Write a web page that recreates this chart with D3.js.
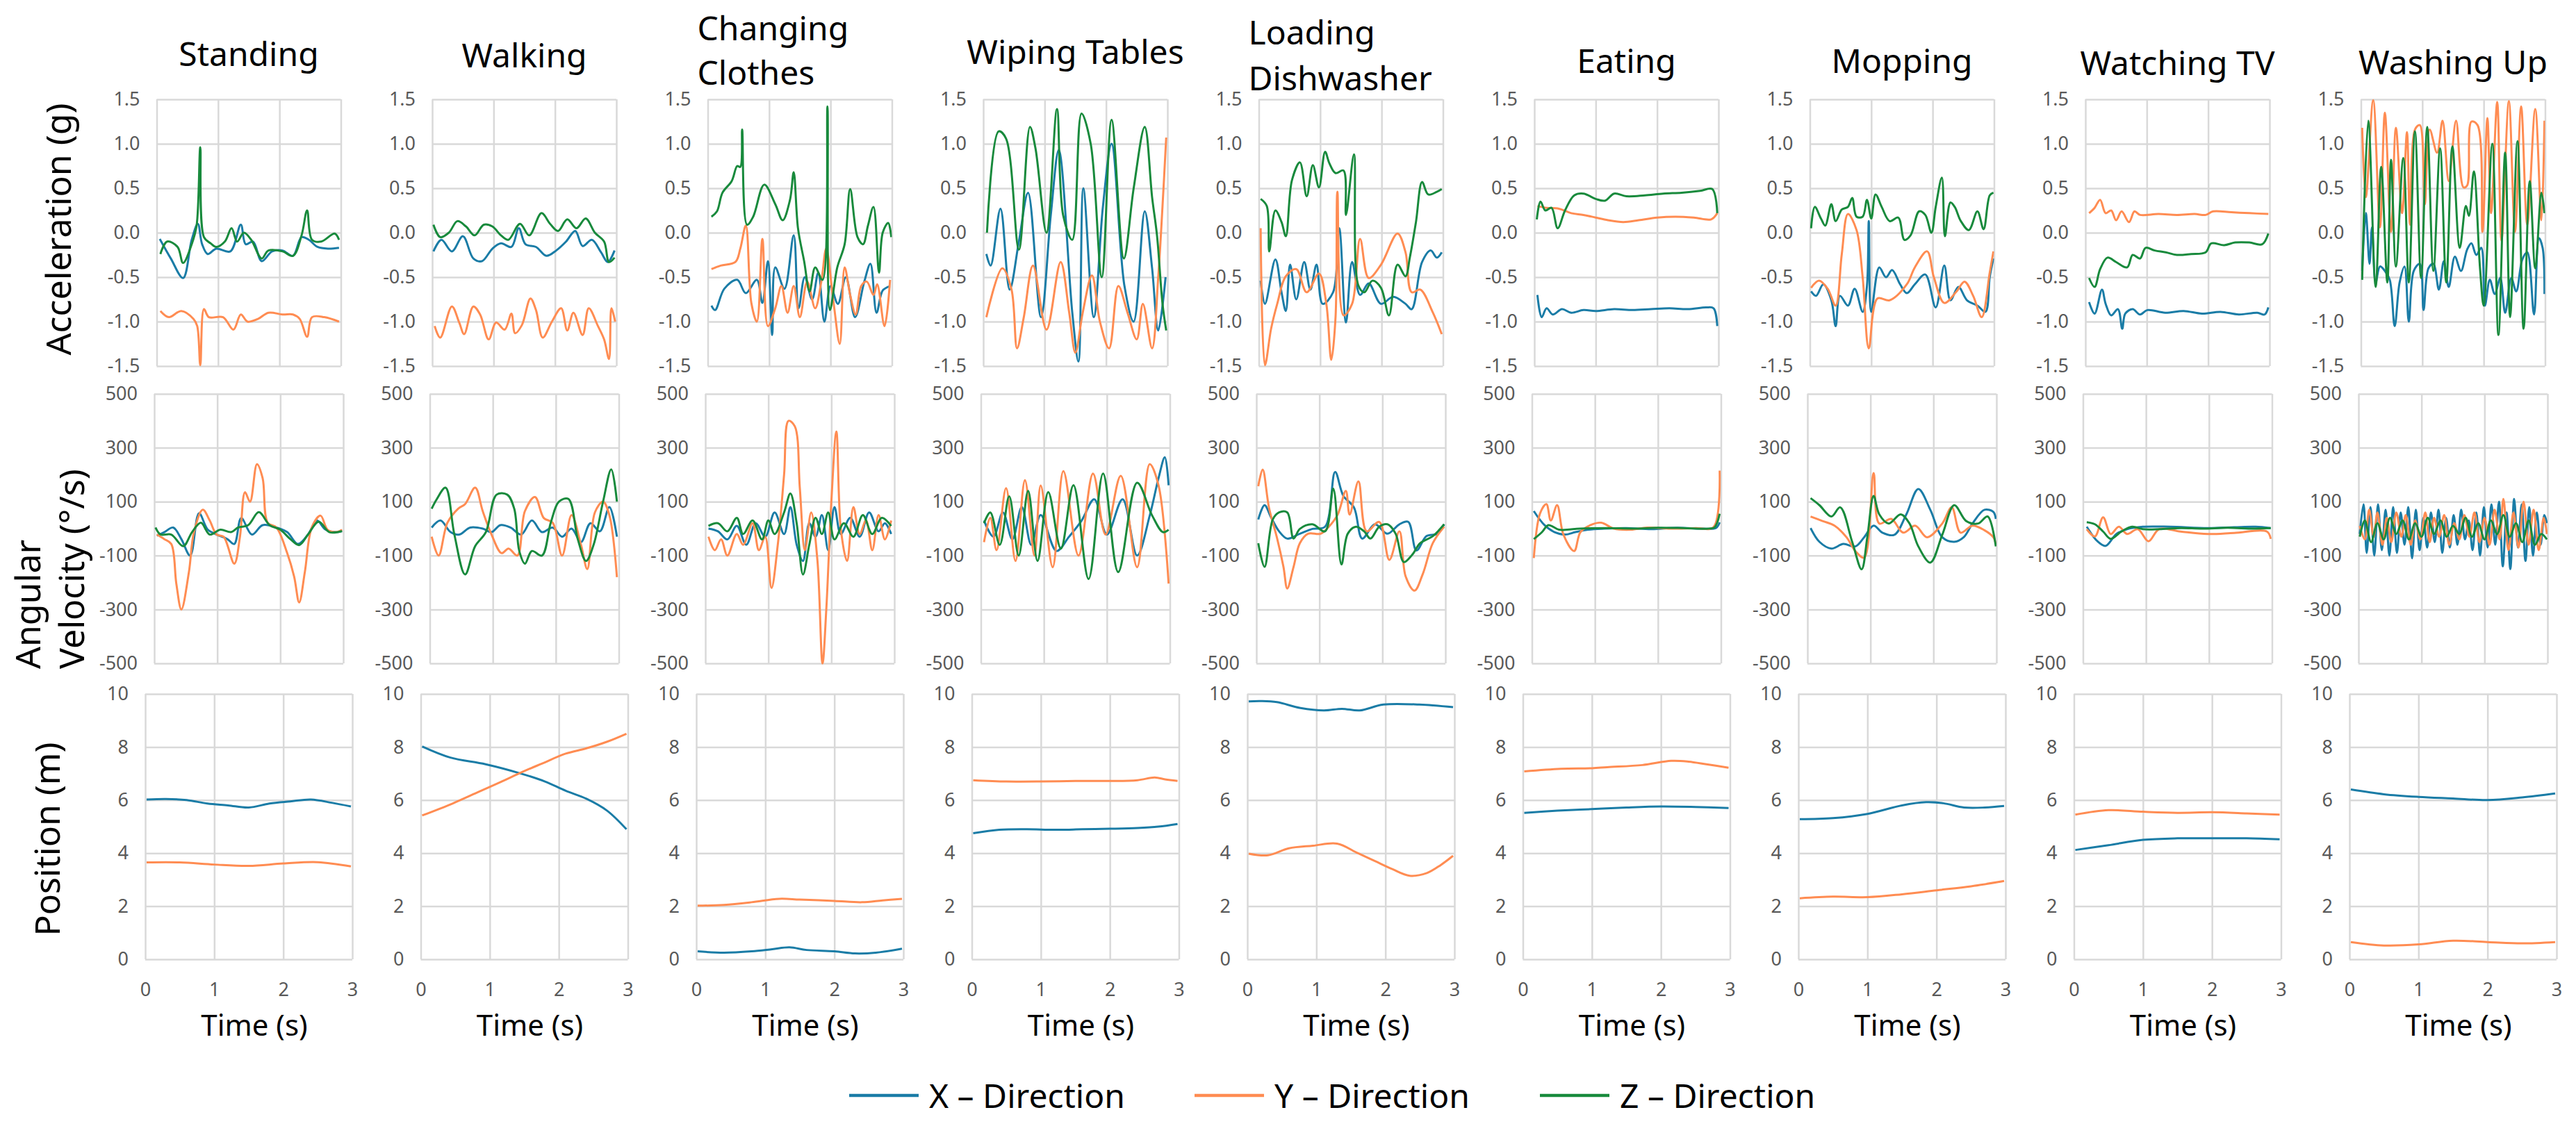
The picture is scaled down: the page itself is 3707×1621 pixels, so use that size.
<!DOCTYPE html>
<html>
<head>
<meta charset="utf-8">
<script src="https://cdn.jsdelivr.net/npm/d3@7/dist/d3.min.js"></script>
<style>
	body { margin: 0; background: #fff; }
	svg text { font-family: "Noto Sans", sans-serif; }
</style>
</head>
<body>
<svg id="chart" width="3707" height="1621"></svg>
<script>

	var activities = ["Standing", "Walking", "Changing Clothes", "Wiping Tables", "Loading Dishwasher", "Eating", "Mopping", "Watching TV", "Washing Up"];
	var titleLines = [["Standing"], ["Walking"], ["Changing", "Clothes"], ["Wiping Tables"], ["Loading", "Dishwasher"], ["Eating"], ["Mopping"], ["Watching TV"], ["Washing Up"]];
	var rowLabels = [["Acceleration (g)"], ["Angular", "Velocity (°/s)"], ["Position (m)"]];
	var seriesNames = ["X – Direction", "Y – Direction", "Z – Direction"];
	var timeTicks = [0, 1, 2, 3];
	var accTicks = [-1.5, -1, -0.5, 0, 0.5, 1, 1.5];
	var gyrTicks = [-500, -300, -100, 100, 300, 500];
	var posTicks = [0, 2, 4, 6, 8, 10];

	// ---- acceleration (g), [time s, value] ----
	var stAccX = [[0.05,-0.07],[0.23,-0.29],[0.43,-0.51],[0.57,-0.08],[0.67,0.1],[0.74,-0.13],[0.83,-0.24],[0.97,-0.18],[1.2,-0.21],[1.37,0.09],[1.45,-0.13],[1.57,-0.1],[1.71,-0.32],[1.88,-0.21],[2.05,-0.2],[2.22,-0.26],[2.36,-0.05],[2.48,-0.08],[2.62,-0.16],[2.79,-0.18],[2.97,-0.17]];
	var stAccY = [[0.06,-0.88],[0.2,-0.95],[0.4,-0.88],[0.6,-0.97],[0.66,-1.05],[0.71,-1.49],[0.77,-0.86],[0.85,-0.95],[1.08,-0.95],[1.25,-1.09],[1.37,-0.92],[1.48,-1.0],[1.65,-0.97],[1.82,-0.9],[2.05,-0.92],[2.22,-0.92],[2.33,-0.97],[2.45,-1.17],[2.53,-0.95],[2.73,-0.95],[2.97,-1.0]];
	var stAccZ = [[0.06,-0.24],[0.17,-0.1],[0.34,-0.16],[0.43,-0.34],[0.57,-0.13],[0.65,0.08],[0.71,0.96],[0.77,-0.05],[0.88,-0.12],[0.97,-0.16],[1.11,-0.1],[1.22,0.05],[1.31,-0.1],[1.42,0],[1.54,-0.08],[1.71,-0.29],[1.82,-0.2],[2.05,-0.21],[2.22,-0.26],[2.36,-0.03],[2.45,0.25],[2.53,-0.08],[2.68,-0.1],[2.9,-0.01],[2.97,-0.08]];

	var wkAccX = [[0.02,-0.21],[0.15,-0.08],[0.32,-0.21],[0.5,-0.04],[0.67,-0.29],[0.81,-0.32],[0.98,-0.18],[1.12,-0.12],[1.29,-0.16],[1.41,0.05],[1.52,-0.13],[1.69,-0.16],[1.86,-0.26],[2.02,-0.2],[2.18,-0.1],[2.33,0.02],[2.45,-0.15],[2.6,-0.08],[2.75,-0.22],[2.86,-0.33],[2.97,-0.2]];
	var wkAccY = [[0.04,-1.05],[0.13,-1.18],[0.32,-0.83],[0.44,-1.01],[0.52,-1.14],[0.67,-0.83],[0.78,-0.92],[0.92,-1.2],[1.04,-1.01],[1.18,-1.09],[1.29,-0.91],[1.35,-1.13],[1.46,-1.04],[1.6,-0.74],[1.69,-0.87],[1.8,-1.18],[1.95,-1.0],[2.1,-0.85],[2.2,-1.1],[2.3,-0.9],[2.45,-1.15],[2.55,-0.85],[2.7,-1.05],[2.8,-1.2],[2.88,-1.42],[2.92,-0.85],[2.98,-1.0]];
	var wkAccZ = [[0.02,0.09],[0.13,-0.05],[0.27,0],[0.41,0.13],[0.55,0.07],[0.69,-0.03],[0.84,0.09],[0.98,0.07],[1.12,-0.03],[1.24,-0.08],[1.43,0.1],[1.58,-0.03],[1.78,0.22],[1.92,0.1],[2.05,0.02],[2.2,0.15],[2.35,0.05],[2.5,0.16],[2.65,0.0],[2.8,-0.1],[2.88,-0.33],[2.97,-0.28]];

	var ccAccX = [[0.06,-0.82],[0.12,-0.87],[0.27,-0.63],[0.48,-0.53],[0.62,-0.68],[0.8,-0.53],[0.89,-0.79],[0.98,-0.32],[1.05,-1.15],[1.1,-0.39],[1.25,-0.63],[1.4,-0.03],[1.48,-0.85],[1.58,-0.5],[1.7,-0.75],[1.8,-0.45],[1.9,-1.0],[2.0,-0.6],[2.12,-0.8],[2.25,-0.5],[2.4,-0.95],[2.55,-0.55],[2.65,-0.35],[2.75,-0.9],[2.85,-0.65],[2.97,-0.6]];
	var ccAccY = [[0.06,-0.41],[0.21,-0.37],[0.45,-0.33],[0.53,-0.18],[0.62,0.08],[0.71,-0.79],[0.8,-1.0],[0.89,-0.07],[0.98,-1.05],[1.1,-0.85],[1.2,-0.6],[1.3,-0.9],[1.4,-0.6],[1.5,-0.95],[1.62,-0.55],[1.75,-0.85],[1.85,-0.55],[1.93,-0.18],[2.05,-0.79],[2.15,-1.25],[2.23,-0.39],[2.32,-0.7],[2.41,-0.92],[2.5,-0.6],[2.59,-0.55],[2.7,-0.7],[2.76,-0.58],[2.88,-1.05],[2.97,-0.53]];
	var ccAccZ = [[0.06,0.18],[0.15,0.24],[0.24,0.45],[0.39,0.58],[0.48,0.75],[0.53,0.74],[0.56,1.16],[0.64,0.09],[0.74,0.18],[0.92,0.54],[1.1,0.32],[1.22,0.14],[1.34,0.37],[1.4,0.68],[1.47,0.05],[1.57,-0.32],[1.66,-0.66],[1.75,-0.39],[1.87,-0.53],[1.95,1.42],[1.99,-0.87],[2.11,-0.39],[2.23,-0.13],[2.32,0.49],[2.44,-0.05],[2.53,-0.13],[2.61,0.08],[2.7,0.29],[2.79,-0.45],[2.85,0],[2.94,0.11],[2.99,-0.05]];

	var wtAccX = [[0.05,-0.24],[0.12,-0.37],[0.28,0.27],[0.43,-0.64],[0.58,-0.1],[0.73,0.45],[0.94,-0.95],[1.1,0.2],[1.23,0.93],[1.45,-0.9],[1.55,-1.45],[1.63,0.5],[1.8,-0.95],[1.95,0.3],[2.09,1.0],[2.3,-0.6],[2.45,-1.0],[2.63,0.24],[2.75,-0.4],[2.85,-1.1],[2.97,-0.5]];
	var wtAccY = [[0.05,-0.95],[0.31,-0.4],[0.46,-0.64],[0.55,-1.3],[0.66,-0.95],[0.81,-0.37],[1.03,-1.09],[1.26,-0.33],[1.4,-0.9],[1.5,-1.35],[1.62,-0.9],[1.77,-0.48],[1.9,-1.0],[2.05,-1.3],[2.2,-0.6],[2.35,-0.9],[2.5,-1.2],[2.6,-0.8],[2.75,-1.3],[2.85,-0.5],[2.92,0.3],[2.98,1.07]];
	var wtAccZ = [[0.06,0],[0.25,1.14],[0.37,1.06],[0.58,-0.19],[0.76,1.19],[0.85,0.95],[1.03,0],[1.2,1.39],[1.3,0.2],[1.45,-0.08],[1.6,1.34],[1.75,1.0],[1.93,-0.5],[2.09,1.27],[2.29,-0.29],[2.45,0.5],[2.63,1.19],[2.75,0.4],[2.83,-0.03],[2.92,-0.8],[2.98,-1.1]];

	var ldAccX = [[0.03,-0.54],[0.1,-0.8],[0.27,-0.3],[0.37,-0.67],[0.44,-0.88],[0.51,-0.36],[0.61,-0.75],[0.74,-0.33],[0.84,-0.64],[0.94,-0.36],[1.04,-0.8],[1.21,-0.67],[1.31,0.05],[1.42,-1.01],[1.52,-0.33],[1.65,-0.7],[1.79,-0.57],[1.99,-0.8],[2.19,-0.72],[2.39,-0.8],[2.49,-0.86],[2.66,-0.33],[2.8,-0.2],[2.9,-0.28],[2.98,-0.22]];
	var ldAccY = [[0.03,0.05],[0.1,-1.49],[0.2,-1.08],[0.3,-0.8],[0.44,-0.49],[0.61,-0.41],[0.78,-0.67],[0.98,-0.46],[1.1,-0.8],[1.18,-1.43],[1.25,-0.95],[1.28,0.46],[1.38,-0.93],[1.52,-0.8],[1.65,-0.07],[1.79,-0.51],[1.99,-0.36],[2.26,-0.01],[2.39,-0.22],[2.49,-0.67],[2.63,-0.64],[2.83,-0.89],[2.98,-1.14]];
	var ldAccZ = [[0.03,0.38],[0.13,0.3],[0.17,-0.21],[0.27,0.25],[0.37,0.12],[0.44,-0.04],[0.54,0.59],[0.67,0.79],[0.78,0.41],[0.88,0.76],[0.98,0.51],[1.08,0.91],[1.15,0.78],[1.25,0.67],[1.38,0.7],[1.42,0.2],[1.55,0.88],[1.62,-0.59],[1.72,-0.67],[1.85,-0.54],[1.99,-0.62],[2.12,-0.93],[2.26,-0.36],[2.39,-0.49],[2.46,-0.28],[2.56,0.12],[2.66,0.57],[2.76,0.43],[2.9,0.46],[2.98,0.49]];

	var eaAccX = [[0.05,-0.7],[0.12,-0.95],[0.2,-0.85],[0.3,-0.92],[0.45,-0.86],[0.6,-0.9],[0.8,-0.87],[1.0,-0.88],[1.3,-0.86],[1.6,-0.87],[1.9,-0.86],[2.2,-0.85],[2.5,-0.86],[2.8,-0.84],[2.92,-0.85],[2.98,-1.05]];
	var eaAccY = [[0.05,0.3],[0.2,0.28],[0.4,0.27],[0.6,0.22],[0.8,0.2],[1.0,0.17],[1.2,0.14],[1.45,0.12],[1.7,0.14],[2.0,0.17],[2.3,0.18],[2.6,0.17],[2.88,0.15],[2.98,0.22]];
	var eaAccZ = [[0.04,0.15],[0.1,0.35],[0.18,0.25],[0.28,0.28],[0.38,0.05],[0.5,0.25],[0.65,0.42],[0.8,0.44],[1.0,0.38],[1.15,0.36],[1.3,0.44],[1.5,0.41],[1.8,0.42],[2.1,0.44],[2.4,0.45],[2.7,0.47],[2.9,0.49],[2.98,0.22]];

	var mpAccX = [[0.02,-0.66],[0.1,-0.71],[0.22,-0.58],[0.35,-0.76],[0.42,-1.05],[0.49,-0.71],[0.62,-0.82],[0.73,-0.63],[0.86,-0.89],[0.93,-0.6],[0.96,0.13],[1.0,-0.89],[1.13,-0.39],[1.24,-0.5],[1.34,-0.42],[1.47,-0.58],[1.58,-0.68],[1.71,-0.58],[1.88,-0.47],[2.05,-0.84],[2.19,-0.37],[2.29,-0.76],[2.42,-0.61],[2.56,-0.76],[2.73,-0.82],[2.86,-0.89],[2.93,-0.5],[2.99,-0.29]];
	var mpAccY = [[0.02,-0.62],[0.15,-0.54],[0.29,-0.63],[0.42,-0.82],[0.52,-0.24],[0.62,0.21],[0.76,0.03],[0.86,-0.5],[0.96,-1.3],[1.1,-0.74],[1.3,-0.76],[1.58,-0.58],[1.71,-0.39],[1.91,-0.21],[2.02,-0.5],[2.19,-0.79],[2.39,-0.66],[2.52,-0.55],[2.66,-0.71],[2.8,-0.95],[2.93,-0.45],[2.99,-0.21]];
	var mpAccZ = [[0.02,0.05],[0.08,0.29],[0.18,0.16],[0.25,0.08],[0.35,0.32],[0.42,0.13],[0.52,0.26],[0.62,0.29],[0.69,0.39],[0.76,0.18],[0.86,0.18],[0.93,0.37],[1.0,0.16],[1.07,0.43],[1.17,0.29],[1.3,0.13],[1.44,0.17],[1.54,-0.08],[1.64,-0.03],[1.78,0.24],[1.88,0.2],[1.98,0],[2.05,0.29],[2.15,0.62],[2.2,-0.04],[2.29,0.34],[2.36,0.29],[2.46,0.13],[2.59,0.03],[2.73,0.24],[2.83,0.04],[2.93,0.42],[2.99,0.45]];

	var tvAccX = [[0.06,-0.78],[0.15,-0.91],[0.27,-0.64],[0.33,-0.8],[0.42,-0.93],[0.53,-0.86],[0.6,-1.08],[0.65,-0.91],[0.77,-0.86],[0.89,-0.92],[1.01,-0.87],[1.3,-0.9],[1.6,-0.88],[1.9,-0.91],[2.2,-0.89],[2.5,-0.92],[2.8,-0.9],[2.92,-0.92],[2.98,-0.84]];
	var tvAccY = [[0.06,0.22],[0.15,0.28],[0.24,0.37],[0.33,0.22],[0.42,0.25],[0.5,0.14],[0.59,0.24],[0.71,0.12],[0.8,0.24],[0.89,0.2],[1.19,0.21],[1.49,0.2],[1.78,0.21],[1.96,0.2],[2.08,0.24],[2.38,0.23],[2.67,0.22],[2.98,0.21]];
	var tvAccZ = [[0.06,-0.51],[0.15,-0.61],[0.24,-0.41],[0.36,-0.28],[0.5,-0.33],[0.68,-0.39],[0.77,-0.25],[0.89,-0.29],[0.98,-0.17],[1.13,-0.2],[1.31,-0.22],[1.49,-0.25],[1.72,-0.24],[1.96,-0.22],[2.05,-0.12],[2.26,-0.14],[2.44,-0.11],[2.67,-0.11],[2.88,-0.13],[2.98,-0.01]];

	var wuAccX = [[0.02,-0.43],[0.08,0.22],[0.14,-0.35],[0.18,0.06],[0.24,-0.56],[0.31,-0.38],[0.39,-0.43],[0.47,-0.53],[0.55,-1.05],[0.63,-0.56],[0.71,-0.38],[0.78,-1.0],[0.86,-0.43],[0.96,-0.35],[1.02,-0.87],[1.1,-0.4],[1.18,-0.35],[1.27,-0.64],[1.35,-0.32],[1.43,-0.61],[1.53,-0.27],[1.63,-0.43],[1.73,-0.19],[1.8,-0.12],[1.88,-0.25],[1.96,-0.17],[2.02,-0.82],[2.1,-0.53],[2.18,-0.69],[2.27,-0.51],[2.35,-0.9],[2.45,-0.51],[2.53,-0.66],[2.63,-0.3],[2.71,-0.22],[2.82,-0.92],[2.9,-0.06],[2.96,-0.17],[2.99,-0.69]];
	var wuAccY = [[0.02,1.18],[0.08,0.4],[0.2,1.49],[0.31,0.06],[0.39,1.35],[0.49,0.01],[0.57,1.18],[0.67,0.22],[0.75,1.13],[0.8,0.09],[0.88,1.16],[0.96,1.21],[1.04,0.32],[1.12,1.16],[1.24,0.9],[1.33,1.26],[1.43,0.58],[1.55,1.26],[1.67,0.51],[1.73,0.53],[1.8,1.25],[1.9,1.21],[1.98,0.01],[2.06,1.29],[2.12,0.22],[2.22,1.47],[2.29,-0.09],[2.41,1.48],[2.51,0.01],[2.61,1.42],[2.71,0.09],[2.84,1.39],[2.94,0.14],[2.99,1.26]];
	var wuAccZ = [[0.02,-0.53],[0.12,1.26],[0.24,-0.61],[0.33,0.74],[0.43,-0.56],[0.49,0.82],[0.57,-0.38],[0.69,0.84],[0.78,-0.56],[0.88,1.14],[0.98,-0.51],[1.08,1.19],[1.18,-0.43],[1.29,0.95],[1.39,-0.56],[1.49,0.97],[1.61,-0.17],[1.71,0.3],[1.76,0.19],[1.84,0.69],[1.94,-0.4],[2.0,-0.82],[2.14,1.0],[2.24,-1.15],[2.35,0.9],[2.43,-0.95],[2.55,1.03],[2.65,-1.08],[2.75,0.58],[2.84,-0.4],[2.94,0.45],[2.99,0.22]];

	// ---- angular velocity (deg/s) ----
	var stGyrX = [[0.04,-26],[0.16,-13],[0.3,4],[0.43,-39],[0.57,-100],[0.71,57],[0.85,-4],[0.99,-22],[1.16,-39],[1.27,-57],[1.38,39],[1.55,-22],[1.72,13],[1.94,4],[2.11,-13],[2.28,-57],[2.44,-22],[2.58,30],[2.72,-4],[2.89,-13],[2.98,-9]];
	var stGyrY = [[0.04,-22],[0.16,-39],[0.27,-57],[0.35,-204],[0.43,-300],[0.55,-161],[0.63,-13],[0.77,70],[0.88,30],[0.99,-22],[1.1,-30],[1.27,-130],[1.36,-30],[1.44,135],[1.52,100],[1.63,239],[1.72,187],[1.8,22],[1.94,4],[2.11,-91],[2.22,-178],[2.3,-274],[2.39,-161],[2.5,4],[2.64,48],[2.75,-4],[2.89,-13],[2.98,-4]];
	var stGyrZ = [[0.02,4],[0.1,-22],[0.27,-22],[0.46,-65],[0.6,-13],[0.74,22],[0.88,-22],[1.05,-4],[1.22,-13],[1.33,4],[1.49,13],[1.66,61],[1.83,13],[2.0,-4],[2.16,-39],[2.3,-61],[2.44,-22],[2.61,26],[2.78,-13],[2.98,-9]];

	var wkGyrX = [[0.03,4],[0.17,30],[0.33,-13],[0.47,-22],[0.64,4],[0.84,0],[0.98,-13],[1.12,13],[1.28,4],[1.45,-22],[1.62,30],[1.78,-13],[1.95,4],[2.1,-30],[2.25,0],[2.4,-50],[2.55,20],[2.7,-10],[2.85,80],[2.97,-30]];
	var wkGyrY = [[0.03,-30],[0.14,-100],[0.28,22],[0.45,74],[0.56,91],[0.72,152],[0.84,65],[0.98,-22],[1.14,-91],[1.25,-74],[1.39,-100],[1.51,65],[1.67,117],[1.81,39],[1.95,22],[2.1,-100],[2.25,50],[2.4,-60],[2.5,-150],[2.62,60],[2.75,100],[2.85,50],[2.97,-180]];
	var wkGyrZ = [[0.03,74],[0.11,109],[0.25,152],[0.39,-22],[0.56,-170],[0.72,-65],[0.89,-13],[1.06,126],[1.23,126],[1.34,74],[1.42,-83],[1.51,-130],[1.62,-83],[1.78,-100],[1.92,22],[2.05,100],[2.2,110],[2.35,-40],[2.48,-120],[2.6,-60],[2.75,100],[2.88,220],[2.97,100]];

	var ccGyrX = [[0.05,0],[0.2,-10],[0.35,-40],[0.5,10],[0.65,-60],[0.8,20],[0.95,-30],[1.1,60],[1.25,-20],[1.35,80],[1.45,-60],[1.55,-120],[1.65,20],[1.75,-30],[1.85,50],[1.95,-80],[2.05,80],[2.15,-20],[2.3,40],[2.45,-30],[2.6,60],[2.75,-10],[2.85,20],[2.95,-20]];
	var ccGyrY = [[0.05,-30],[0.15,-80],[0.25,-40],[0.35,-100],[0.5,-20],[0.6,-60],[0.75,20],[0.85,-80],[0.95,-30],[1.05,-220],[1.15,-60],[1.25,200],[1.32,400],[1.42,380],[1.5,150],[1.58,-80],[1.68,60],[1.78,-120],[1.86,-500],[1.92,-300],[2.0,100],[2.08,360],[2.15,0],[2.25,-120],[2.35,80],[2.45,-20],[2.55,30],[2.65,-80],[2.75,50],[2.85,-40],[2.95,30]];
	var ccGyrZ = [[0.05,10],[0.2,20],[0.35,-10],[0.5,40],[0.6,-20],[0.75,30],[0.9,-40],[1.0,30],[1.1,-20],[1.25,60],[1.35,130],[1.45,20],[1.55,-170],[1.65,-60],[1.75,40],[1.85,-20],[1.95,60],[2.05,-40],[2.2,20],[2.35,-30],[2.5,50],[2.65,-20],[2.8,40],[2.95,10]];

	var wtGyrX = [[0.05,30],[0.2,-30],[0.35,60],[0.5,-40],[0.65,80],[0.8,-60],[0.95,50],[1.2,-83],[1.4,-30],[1.6,30],[1.8,109],[2.0,-22],[2.25,109],[2.48,-100],[2.68,48],[2.82,187],[2.92,265],[2.98,161]];
	var wtGyrY = [[0.05,-50],[0.15,40],[0.25,-80],[0.4,150],[0.55,-120],[0.7,180],[0.85,-100],[0.95,160],[1.14,-143],[1.31,213],[1.55,-100],[1.78,204],[1.98,-22],[2.22,196],[2.48,-143],[2.68,239],[2.82,161],[2.98,-204]];
	var wtGyrZ = [[0.05,20],[0.15,60],[0.3,-60],[0.45,120],[0.6,-100],[0.75,140],[0.9,-120],[1.07,135],[1.27,-74],[1.47,161],[1.71,-187],[1.94,204],[2.18,-161],[2.48,170],[2.72,48],[2.89,-13],[2.98,-4]];

	var ldGyrX = [[0.03,34],[0.13,87],[0.23,43],[0.36,-10],[0.49,-37],[0.69,-19],[0.89,-1],[1.09,7],[1.25,210],[1.38,122],[1.55,78],[1.68,-37],[1.88,16],[2.08,-19],[2.27,16],[2.41,25],[2.54,-81],[2.7,-28],[2.87,-19],[2.98,16]];
	var ldGyrY = [[0.03,157],[0.1,219],[0.2,78],[0.33,-37],[0.43,-142],[0.49,-222],[0.59,-142],[0.69,-54],[0.82,-19],[1.02,-19],[1.15,7],[1.29,52],[1.42,140],[1.48,52],[1.62,175],[1.75,-10],[1.95,25],[2.11,-116],[2.27,-10],[2.37,-178],[2.51,-230],[2.64,-169],[2.8,-54],[2.98,7]];
	var ldGyrZ = [[0.03,-54],[0.13,-142],[0.26,34],[0.36,60],[0.49,60],[0.59,-37],[0.69,-1],[0.89,16],[1.09,-10],[1.22,148],[1.35,-133],[1.45,-19],[1.58,7],[1.71,-10],[1.81,-37],[1.95,7],[2.08,16],[2.21,-19],[2.34,-124],[2.47,-98],[2.6,-54],[2.8,-28],[2.98,16]];

	var eaGyrX = [[0.03,65],[0.2,13],[0.36,-13],[0.53,-22],[0.69,-13],[0.89,-4],[1.15,0],[1.5,2],[1.9,-2],[2.3,3],[2.7,0],[2.92,2],[2.98,23]];
	var eaGyrY = [[0.03,-109],[0.13,57],[0.23,91],[0.3,30],[0.4,87],[0.5,-22],[0.67,-83],[0.77,-13],[0.93,13],[1.1,22],[1.3,0],[1.57,-4],[1.83,4],[2.2,0],[2.6,2],[2.88,5],[2.98,215]];
	var eaGyrZ = [[0.03,-39],[0.16,-13],[0.26,13],[0.43,-4],[0.56,-4],[0.76,0],[1.2,2],[1.6,0],[2.0,3],[2.4,2],[2.8,0],[2.9,5],[2.98,55]];

	var mpGyrX = [[0.05,2],[0.19,-49],[0.38,-74],[0.57,-57],[0.76,-66],[0.9,-32],[1.05,11],[1.19,-15],[1.38,-23],[1.57,53],[1.76,147],[1.95,70],[2.14,-32],[2.33,-49],[2.48,-32],[2.62,19],[2.81,70],[2.95,62],[2.99,36]];
	var mpGyrY = [[0.05,45],[0.24,28],[0.43,11],[0.62,-32],[0.76,-83],[0.9,-108],[1.05,206],[1.14,19],[1.33,36],[1.52,-15],[1.71,11],[1.9,-32],[2.14,19],[2.29,79],[2.43,-15],[2.62,11],[2.81,-6],[2.95,-32],[2.99,-57]];
	var mpGyrZ = [[0.05,113],[0.19,87],[0.38,45],[0.52,79],[0.71,-49],[0.86,-151],[0.95,-32],[1.05,121],[1.14,53],[1.29,19],[1.48,53],[1.62,19],[1.76,-66],[1.95,-126],[2.14,-23],[2.33,87],[2.52,28],[2.71,19],[2.86,45],[2.99,-66]];

	var tvGyrX = [[0.06,7],[0.23,-47],[0.36,-64],[0.53,-20],[0.7,-2],[0.95,7],[1.38,7],[1.98,2],[2.4,5],[2.74,7],[2.98,2]];
	var tvGyrY = [[0.06,-2],[0.19,-29],[0.32,42],[0.44,-20],[0.57,7],[0.7,-20],[0.87,-2],[1.04,-47],[1.21,-2],[1.55,-11],[1.98,-20],[2.4,-16],[2.92,-11],[2.98,-38]];
	var tvGyrZ = [[0.06,24],[0.19,16],[0.32,-11],[0.44,-38],[0.61,-11],[0.78,7],[0.95,-2],[1.21,-2],[1.55,2],[1.9,0],[2.3,3],[2.7,0],[2.98,2]];

	var wuGyrX = [[0.02,-20],[0.08,90],[0.13,-90],[0.19,80],[0.25,-100],[0.31,90],[0.37,-80],[0.43,70],[0.49,-100],[0.55,80],[0.61,-90],[0.67,60],[0.73,-60],[0.79,80],[0.85,-110],[0.91,70],[0.97,-80],[1.03,40],[1.09,-70],[1.15,60],[1.21,-50],[1.27,70],[1.33,-90],[1.39,40],[1.45,-70],[1.51,50],[1.57,-60],[1.63,70],[1.69,-40],[1.75,30],[1.81,-80],[1.87,60],[1.93,-100],[1.99,80],[2.05,-70],[2.11,90],[2.17,-60],[2.23,100],[2.29,-140],[2.35,60],[2.41,-150],[2.47,110],[2.53,-70],[2.59,90],[2.65,-120],[2.71,80],[2.77,-100],[2.83,60],[2.89,-60],[2.95,50],[2.99,20]];
	var wuGyrY = [[0.02,10],[0.1,-40],[0.17,70],[0.24,-30],[0.3,60],[0.38,-60],[0.45,40],[0.52,-50],[0.6,60],[0.68,-30],[0.75,50],[0.83,-60],[0.9,30],[0.98,-40],[1.06,60],[1.13,-50],[1.2,40],[1.28,-30],[1.36,50],[1.44,-60],[1.52,20],[1.6,-40],[1.68,50],[1.76,-30],[1.84,60],[1.92,-50],[2.0,40],[2.08,-60],[2.16,70],[2.24,-40],[2.3,110],[2.38,-80],[2.46,60],[2.54,-70],[2.62,100],[2.7,-60],[2.78,70],[2.86,-80],[2.94,40],[2.99,-20]];
	var wuGyrZ = [[0.02,-30],[0.1,30],[0.2,-50],[0.3,20],[0.4,-40],[0.5,40],[0.6,-20],[0.7,30],[0.8,-40],[0.9,20],[1.0,-30],[1.1,40],[1.2,-20],[1.3,30],[1.4,-30],[1.5,10],[1.6,-20],[1.7,40],[1.8,-30],[1.9,20],[2.0,-40],[2.1,30],[2.2,-20],[2.3,50],[2.4,-30],[2.5,20],[2.6,-50],[2.7,30],[2.8,-60],[2.9,-20],[2.99,-40]];

	// ---- position (m) ----
	var stPosX = [[0.02,6.02],[0.3,6.04],[0.6,6.0],[0.9,5.87],[1.2,5.8],[1.5,5.72],[1.8,5.87],[2.1,5.95],[2.4,6.02],[2.7,5.9],[2.98,5.76]];
	var stPosY = [[0.02,3.65],[0.5,3.65],[1.0,3.57],[1.5,3.52],[2.0,3.61],[2.5,3.66],[2.98,3.5]];
	var wkPosX = [[0.02,8.02],[0.43,7.6],[0.94,7.35],[1.45,7.0],[1.8,6.7],[2.1,6.35],[2.4,6.05],[2.7,5.6],[2.98,4.9]];
	var wkPosY = [[0.02,5.42],[0.46,5.87],[0.84,6.31],[1.15,6.67],[1.48,7.07],[1.76,7.38],[2.1,7.75],[2.4,7.95],[2.7,8.2],[2.98,8.5]];
	var ccPosX = [[0.02,0.3],[0.4,0.25],[0.8,0.3],[1.1,0.38],[1.35,0.45],[1.6,0.35],[2.0,0.3],[2.3,0.22],[2.6,0.25],[2.98,0.4]];
	var ccPosY = [[0.02,2.02],[0.4,2.05],[0.8,2.15],[1.2,2.28],[1.5,2.25],[2.0,2.2],[2.4,2.15],[2.7,2.22],[2.98,2.28]];
	var wtPosX = [[0.02,4.75],[0.4,4.88],[0.8,4.9],[1.2,4.88],[1.6,4.9],[2.0,4.92],[2.4,4.95],[2.7,5.0],[2.98,5.1]];
	var wtPosY = [[0.02,6.75],[0.5,6.7],[1.0,6.7],[1.5,6.72],[2.0,6.72],[2.4,6.75],[2.65,6.85],[2.8,6.78],[2.98,6.72]];
	var ldPosX = [[0.02,9.72],[0.2,9.73],[0.43,9.69],[0.77,9.47],[1.11,9.38],[1.37,9.44],[1.63,9.38],[1.97,9.6],[2.49,9.6],[2.98,9.5]];
	var ldPosY = [[0.02,3.98],[0.3,3.92],[0.6,4.18],[0.95,4.28],[1.3,4.36],[1.6,4.0],[1.85,3.7],[2.1,3.4],[2.35,3.15],[2.6,3.25],[2.8,3.55],[2.98,3.9]];
	var eaPosX = [[0.02,5.52],[0.5,5.6],[1.0,5.66],[1.5,5.72],[2.0,5.76],[2.5,5.74],[2.98,5.7]];
	var eaPosY = [[0.02,7.08],[0.55,7.18],[1.0,7.2],[1.22,7.24],[1.73,7.32],[2.15,7.48],[2.4,7.45],[2.66,7.35],[2.98,7.22]];
	var mpPosX = [[0.02,5.28],[0.5,5.32],[1.0,5.48],[1.5,5.8],[1.85,5.92],[2.1,5.88],[2.4,5.72],[2.7,5.72],[2.98,5.78]];
	var mpPosY = [[0.02,2.3],[0.5,2.36],[1.0,2.34],[1.5,2.45],[2.0,2.6],[2.5,2.75],[2.98,2.95]];
	var tvPosX = [[0.02,4.12],[0.5,4.3],[1.0,4.5],[1.5,4.56],[2.0,4.56],[2.5,4.56],[2.98,4.52]];
	var tvPosY = [[0.02,5.45],[0.5,5.62],[1.0,5.56],[1.5,5.52],[2.0,5.54],[2.5,5.5],[2.98,5.45]];
	var wuPosX = [[0.02,6.4],[0.5,6.22],[1.0,6.12],[1.5,6.06],[2.0,6.0],[2.5,6.1],[2.98,6.25]];
	var wuPosY = [[0.02,0.65],[0.5,0.52],[1.0,0.56],[1.5,0.7],[2.0,0.65],[2.5,0.6],[2.98,0.65]];

	var accSeries = [[stAccX, stAccY, stAccZ], [wkAccX, wkAccY, wkAccZ], [ccAccX, ccAccY, ccAccZ], [wtAccX, wtAccY, wtAccZ], [ldAccX, ldAccY, ldAccZ], [eaAccX, eaAccY, eaAccZ], [mpAccX, mpAccY, mpAccZ], [tvAccX, tvAccY, tvAccZ], [wuAccX, wuAccY, wuAccZ]];
	var gyrSeries = [[stGyrX, stGyrY, stGyrZ], [wkGyrX, wkGyrY, wkGyrZ], [ccGyrX, ccGyrY, ccGyrZ], [wtGyrX, wtGyrY, wtGyrZ], [ldGyrX, ldGyrY, ldGyrZ], [eaGyrX, eaGyrY, eaGyrZ], [mpGyrX, mpGyrY, mpGyrZ], [tvGyrX, tvGyrY, tvGyrZ], [wuGyrX, wuGyrY, wuGyrZ]];
	var posSeries = [[stPosX, stPosY], [wkPosX, wkPosY], [ccPosX, ccPosY], [wtPosX, wtPosY], [ldPosX, ldPosY], [eaPosX, eaPosY], [mpPosX, mpPosY], [tvPosX, tvPosY], [wuPosX, wuPosY]];

	// layout
	var colStart = 358, colStep = 396.5;
	var rowTop = [143, 567, 999], rowBottom = [527, 955, 1381], rowWidth = [265, 272, 298];
	var rowDomain = [[-1.5, 1.5], [-500, 500], [0, 10]];
	var rowTicks = [accTicks, gyrTicks, posTicks];
	var rowFmt = [function (d) { return d.toFixed(1).replace("-0.0", "0.0"); }, function (d) { return d; }, function (d) { return d; }];
	var titleBase = [[95], [97], [58, 122], [92], [64, 130], [105], [105], [108], [107]];
	var colors = ["#1a7ca6", "#ff8c52", "#188a3c"];
	var gridColor = "#d9d9d9";

	var svg = d3.select("#chart");
	var defs = svg.append("defs");

	function drawPanel(row, col, series) {
		var w = rowWidth[row];
		var left = colStart + colStep * col - w / 2;
		var top = rowTop[row], bottom = rowBottom[row];
		var x = d3.scaleLinear().domain([0, 3]).range([left, left + w]);
		var y = d3.scaleLinear().domain(rowDomain[row]).range([bottom, top]);
		var g = svg.append("g").attr("class", "panel");

		var xAxis = g.append("g")
			.attr("transform", "translate(0," + bottom + ")")
			.call(d3.axisBottom(x).tickValues(timeTicks).tickSize(-(bottom - top)).tickPadding(34)
				.tickFormat(row === 2 ? function (d) { return d; } : function () { return ""; }));
		var yAxis = g.append("g")
			.attr("transform", "translate(" + left + ",0)")
			.call(d3.axisLeft(y).tickValues(rowTicks[row]).tickSize(-w).tickPadding(24).tickFormat(rowFmt[row]));
		[xAxis, yAxis].forEach(function (a) {
			a.select(".domain").remove();
			a.selectAll("line").attr("stroke", gridColor).attr("stroke-width", 2.5);
			a.selectAll("text").attr("fill", "#595959").style("font-size", "27px");
		});

		var clipId = "clip-" + row + "-" + col;
		defs.append("clipPath").attr("id", clipId)
			.append("rect").attr("x", left).attr("y", top - 2).attr("width", w).attr("height", bottom - top + 4);

		var line = d3.line()
			.x(function (d) { return x(d[0]); })
			.y(function (d) { return y(d[1]); })
			.curve(d3.curveCatmullRom.alpha(0.5));

		g.append("g").attr("clip-path", "url(#" + clipId + ")")
			.selectAll("path")
			.data(series)
			.enter().append("path")
			.attr("d", line)
			.attr("fill", "none")
			.attr("stroke", function (d, i) { return colors[i]; })
			.attr("stroke-width", 3)
			.attr("stroke-linejoin", "round");

		if (row === 2) {
			g.append("text")
				.attr("x", left + w / 2 + 8)
				.attr("y", 1491)
				.attr("text-anchor", "middle")
				.style("font-size", "42px")
				.attr("fill", "#000")
				.text("Time (s)");
		}
	}

	for (var c = 0; c < activities.length; c++) {
		drawPanel(0, c, accSeries[c]);
		drawPanel(1, c, gyrSeries[c]);
		drawPanel(2, c, posSeries[c]);

		var lines = titleLines[c];
		var cx = colStart + colStep * c;
		var t = svg.append("text").attr("class", "title").style("font-size", "48px").attr("fill", "#000");
		lines.forEach(function (s, i) {
			if (lines.length > 1)
				t.append("tspan").attr("x", cx - rowWidth[0] / 2 - 15).attr("y", titleBase[c][i]).text(s);
			else
				t.append("tspan").attr("x", cx).attr("y", titleBase[c][i]).attr("text-anchor", "middle").text(s);
		});
	}

	// row labels
	svg.append("text").attr("transform", "translate(102,330) rotate(-90)")
		.attr("text-anchor", "middle").style("font-size", "50px").text(rowLabels[0][0]);
	svg.append("text").attr("transform", "translate(58,963) rotate(-90)")
		.attr("text-anchor", "start").style("font-size", "50px").text(rowLabels[1][0]);
	svg.append("text").attr("transform", "translate(121,963) rotate(-90)")
		.attr("text-anchor", "start").style("font-size", "50px").text(rowLabels[1][1]);
	svg.append("text").attr("transform", "translate(86,1208) rotate(-90)")
		.attr("text-anchor", "middle").style("font-size", "50px").text(rowLabels[2][0]);

	// legend
	var legend = svg.append("g").attr("class", "legend");
	seriesNames.forEach(function (name, i) {
		var lx = 1222 + i * 497;
		legend.append("line").attr("x1", lx).attr("x2", lx + 100).attr("y1", 1577).attr("y2", 1577)
			.attr("stroke", colors[i]).attr("stroke-width", 4.5);
		legend.append("text").attr("x", lx + 115).attr("y", 1595)
			.style("font-size", "48px").attr("fill", "#000").text(name);
	});

</script>
</body>
</html>
